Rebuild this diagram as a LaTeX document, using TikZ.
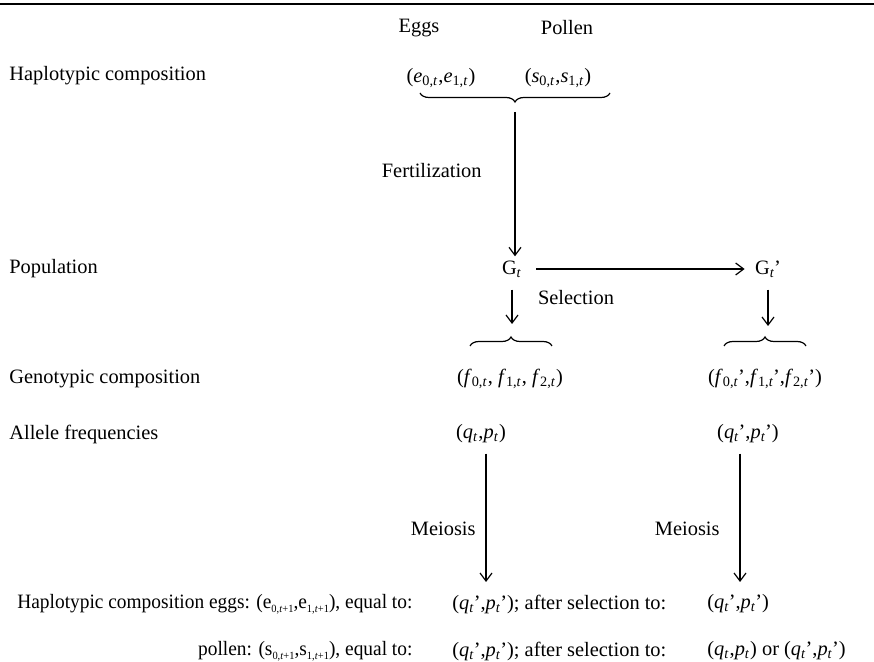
\documentclass[tikz,border=0pt]{standalone}
\usepackage{fontspec}
\setmainfont{Liberation Serif}
\newfontfamily\narrowfont{Liberation Serif}[FakeStretch=0.95]
\usetikzlibrary{arrows.meta, decorations.pathreplacing}
\newcommand{\vsub}[2]{\textit{#1}\textsubscript{#2}}
\newcommand{\pr}{\kern-0.04em'}
\newcommand{\tsub}[1]{\raisebox{-0.45ex}{\fontsize{5.5}{6}\selectfont #1}}

\begin{document}
\begin{tikzpicture}[x=0.5pt, y=-0.5pt,
    lbl/.style={inner sep=1pt, font=\fontsize{10.2}{12}\selectfont},
    arr/.style={line width=0.6pt, -{Straight Barb[length=4pt, width=6pt]}},
    brace/.style={line width=0.6pt, decorate, decoration={brace, amplitude=4.5pt}}]
    \useasboundingbox (0,0) rectangle (874,662);
    \draw[line width=1pt] (0,4) -- (874,4);

    % Haplotypic composition
    \node[lbl] (eggs) at (419,28) {Eggs};
    \node[lbl] (pollen) at (567,28) {Pollen};
    \node[lbl, anchor=west] (haplo) at (7,76) {Haplotypic composition};
    \node[lbl] (eT) at (441,78) {(\vsub{e}{0,\textit{t}},\vsub{e}{1,\textit{t}})};
    \node[lbl] (sT) at (558,78) {(\vsub{s}{0,\textit{t}},\vsub{s}{1,\textit{t}})};
    \draw[brace, decoration={mirror}] (420,93) -- (610,93);
    \coordinate (hapTip) at (515,104);

    % Population
    \node[lbl, anchor=east] (fert) at (484,171) {Fertilization};
    \node[lbl, anchor=west] (popu) at (7,269) {Population};
    \node[lbl] (Gt) at (512,269) {G\textsubscript{\textit{t}}};
    \node[lbl] (Gtp) at (768,269) {G\textsubscript{\textit{t}}\pr};
    \node[lbl] (sel) at (576,298) {Selection};
    \draw[arr, shorten <=4pt, shorten >=1pt] (hapTip) -- (hapTip |- Gt.north);
    \draw[arr, shorten <=6pt, shorten >=4pt] (Gt) -- (Gtp);

    % Genotypic composition
    \coordinate (fArr) at (512,324);
    \coordinate (fpArr) at (768,326);
    \draw[arr, shorten <=5pt] (Gt) -- (fArr);
    \draw[arr, shorten <=5pt] (Gtp) -- (fpArr);
    \draw[brace] (470,346) -- (552,346);
    \draw[brace] (724,346) -- (806,346);
    \node[lbl, anchor=west] (geno) at (7,379) {Genotypic composition};
    \node[lbl] (f) at (510,379) {(\vsub{f}{0,\textit{t}}, \vsub{f}{1,\textit{t}}, \vsub{f}{2,\textit{t}})};
    \node[lbl] (fp) at (765,379) {(\vsub{f}{0,\textit{t}}\pr,\vsub{f}{1,\textit{t}}\pr,\vsub{f}{2,\textit{t}}\pr)};

    % Allele frequencies
    \node[lbl, anchor=west] (allel) at (7,434) {Allele frequencies};
    \node[lbl] (q) at (481,434) {(\vsub{q}{\textit{t}},\vsub{p}{\textit{t}})};
    \node[lbl] (qp) at (748,434) {(\vsub{q}{\textit{t}}\pr,\vsub{p}{\textit{t}}\pr)};

    % Meiosis
    \coordinate (qArr) at (486,582);
    \coordinate (qpArr) at (740,582);
    \draw[arr, shorten <=4pt] (qArr |- q.south) -- (qArr);
    \draw[arr, shorten <=4pt] (qpArr |- qp.south) -- (qpArr);
    \node[lbl, anchor=east] (mei) at (478,529) {Meiosis};
    \node[lbl, anchor=east] (meip) at (722,529) {Meiosis};

    % next generation
    \node[lbl, anchor=west] (eggN) at (15,604) {\narrowfont Haplotypic composition eggs: (e\tsub{0,\textit{t}+1},e\tsub{1,\textit{t}+1}), equal to:};
    \node[lbl, anchor=west] (eggM) at (450,604) {(\vsub{q}{\textit{t}}\pr,\vsub{p}{\textit{t}}\pr); after selection to:};
    \node[lbl, anchor=west] (eggR) at (705,604) {(\vsub{q}{\textit{t}}\pr,\vsub{p}{\textit{t}}\pr)};
    \node[lbl, anchor=east] (polN) at (eggN.east |- 0,651) {\narrowfont pollen: (s\tsub{0,\textit{t}+1},s\tsub{1,\textit{t}+1}), equal to:};
    \node[lbl, anchor=west] (polM) at (450,651) {(\vsub{q}{\textit{t}}\pr,\vsub{p}{\textit{t}}\pr); after selection to:};
    \node[lbl, anchor=west] (polR) at (705,651) {(\vsub{q}{\textit{t}},\vsub{p}{\textit{t}}) or (\vsub{q}{\textit{t}}\pr,\vsub{p}{\textit{t}}\pr)};
\end{tikzpicture}
\end{document}
